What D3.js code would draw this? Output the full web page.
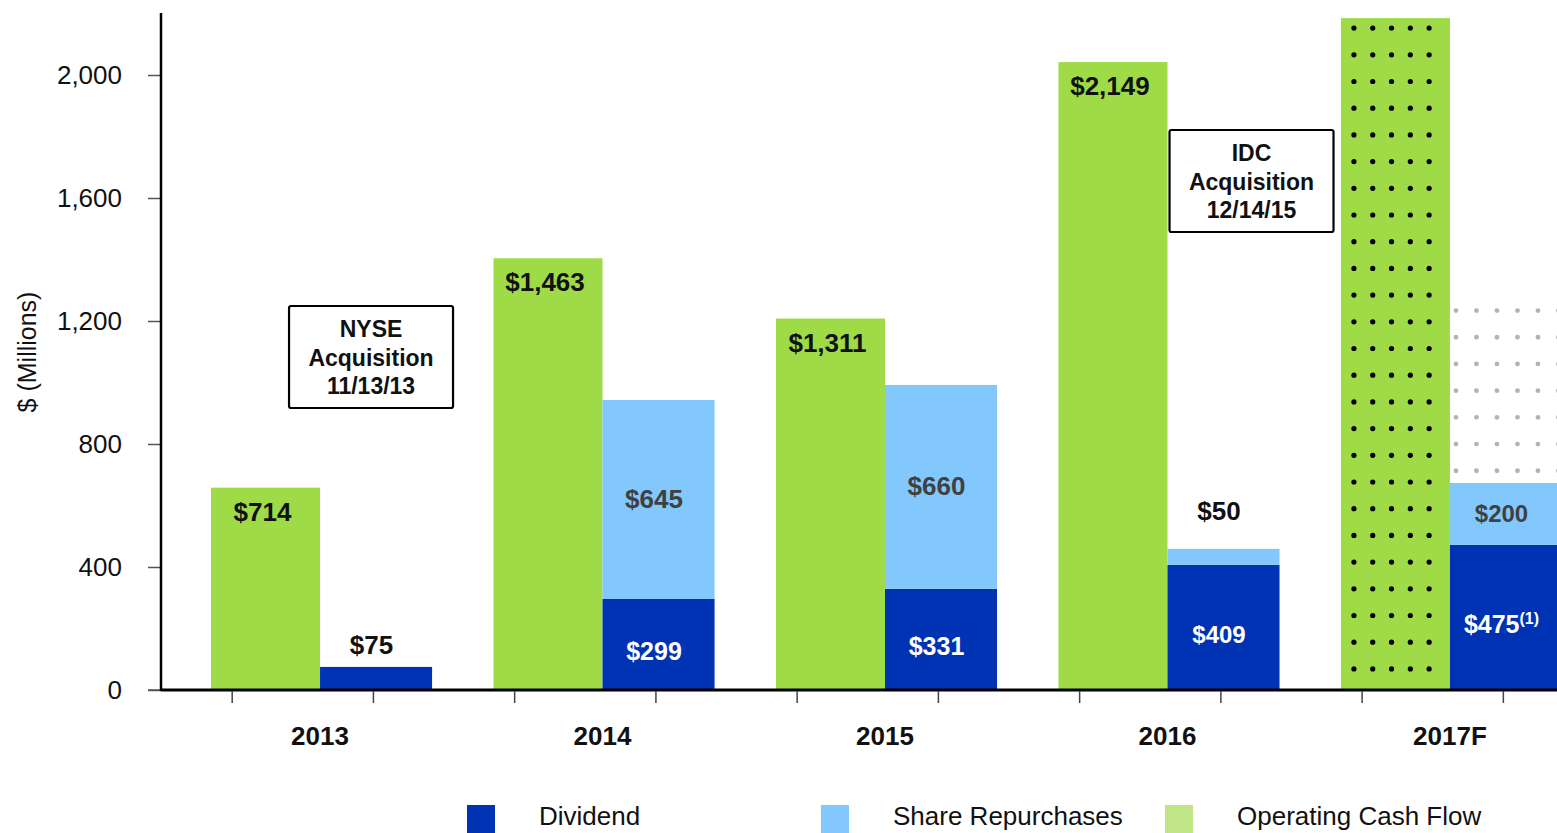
<!DOCTYPE html>
<html>
<head>
<meta charset="utf-8">
<script src="https://cdn.jsdelivr.net/npm/d3@7"></script>
<style>
  html, body { margin: 0; padding: 0; background: #fff; }
  svg { display: block; font-family: "Liberation Sans", Arial, sans-serif; }
</style>
</head>
<body>
<svg id="chart" width="1557" height="833"></svg>
<script>
// values (bar heights follow the axis, labels are the printed numbers)
const categories = ["2013", "2014", "2015", "2016", "2017F"];
const opCashFlow = [658, 1404, 1208, 2042, 2185];
const opCashFlowLabels = ["$714", "$1,463", "$1,311", "$2,149", null];
const dividends = [75, 296, 329, 407, 472];
const dividendLabels = ["$75", "$299", "$331", "$409", "$475"];
const repurchases = [0, 647, 663, 52, 201];
const repurchaseLabels = [null, "$645", "$660", "$50", "$200"];
const repurchaseUpside = [0, 0, 0, 0, 600];
const yTicks = [0, 400, 800, 1200, 1600, 2000];
const legendItems = ["Dividend", "Share Repurchases", "Operating Cash Flow"];
const notes = [
  { cat: "2013", lines: ["NYSE", "Acquisition", "11/13/13"] },
  { cat: "2016", lines: ["IDC", "Acquisition", "12/14/15"] }
];

const GREEN = "#9edb47", BLUE = "#0033b3", LIGHT = "#82c8fd";

const svg = d3.select("#chart");

var y = d3.scaleLinear().domain([0, 2200]).range([690, 13.5]);
var x = d3.scaleBand().domain(categories).range([211, 1559])
  .paddingInner(0.228).paddingOuter(0);
var sub = d3.scaleBand().domain(["ocf", "ret"]).range([0, x.bandwidth()]);

var rows = categories.map((c, i) => ({
  cat: c, ocf: opCashFlow[i], ocfLabel: opCashFlowLabels[i],
  div: dividends[i], divLabel: dividendLabels[i],
  rep: repurchases[i], repLabel: repurchaseLabels[i], up: repurchaseUpside[i]
}));

// y axis
var yAxis = svg.append("g").attr("transform", "translate(161,0)")
  .call(d3.axisLeft(y).tickValues(yTicks).tickSize(13).tickPadding(26)
    .tickFormat(d3.format(",")));
yAxis.select(".domain").remove();
yAxis.selectAll(".tick line").attr("stroke", "#555").attr("stroke-width", 1.5);
yAxis.selectAll(".tick text").attr("font-size", 26).attr("fill", "#111")
  .attr("font-family", "Liberation Sans, Arial, sans-serif");

svg.append("text")
  .attr("transform", "translate(36,352) rotate(-90)")
  .attr("text-anchor", "middle").attr("font-size", 25).attr("fill", "#111")
  .text("$ (Millions)");

// bars
var g = svg.append("g");
rows.forEach(function (d) {
  var x0 = x(d.cat);
  var gx = x0 + sub("ocf"), bx = x0 + sub("ret"), w = sub.bandwidth();

  g.append("rect").attr("x", gx).attr("y", y(d.ocf))
    .attr("width", w).attr("height", y(0) - y(d.ocf)).attr("fill", GREEN);

  g.append("rect").attr("x", bx).attr("y", y(d.div))
    .attr("width", w + 3).attr("height", y(0) - y(d.div)).attr("fill", BLUE);

  if (d.rep > 0) {
    g.append("rect").attr("x", bx).attr("y", y(d.div + d.rep))
      .attr("width", w + 3).attr("height", y(d.div) - y(d.div + d.rep)).attr("fill", LIGHT);
  }

  // forecast: dotted green bar, grey dotted upside above the repurchases
  if (d.cat === "2017F") {
    var top = y(d.ocf);
    d3.range(5).forEach(function (c) {
      for (var cy = top + 10; cy < y(0) - 14; cy += 26.7) {
        g.append("circle").attr("cx", gx + 13 + c * 18.8).attr("cy", cy)
          .attr("r", 2.6).attr("fill", "#000");
      }
    });
    var uTop = y(d.div + d.rep + d.up), uBot = y(d.div + d.rep);
    d3.range(6).forEach(function (c) {
      for (var cy = uTop + 12; cy < uBot - 6; cy += 26.7) {
        g.append("circle").attr("cx", bx + 6 + c * 20.5).attr("cy", cy)
          .attr("r", 2.4).attr("fill", "#b3b3b3");
      }
    });
  }

  // labels
  var lab = svg.append("g").attr("font-weight", "bold").attr("text-anchor", "middle");
  if (d.ocfLabel) {
    lab.append("text").attr("x", gx + w / 2 - 3).attr("y", y(d.ocf) + 33)
      .attr("font-size", 26).attr("fill", "#111").text(d.ocfLabel);
  }
  var divTop = y(d.div);
  if (d.div < 150) {
    lab.append("text").attr("x", bx + w / 2 - 3).attr("y", divTop - 13)
      .attr("font-size", 26).attr("fill", "#111").text(d.divLabel);
  } else {
    var t = lab.append("text").attr("x", bx + w / 2 - 3).attr("y", (divTop + y(0)) / 2 + 16)
      .attr("font-size", d.cat === "2016" ? 24 : 25).attr("fill", "#fff");
    t.append("tspan").text(d.divLabel);
    if (d.cat === "2017F") {
      t.append("tspan").attr("dy", -9).attr("font-size", 16).text("(1)");
    }
  }
  if (d.repLabel) {
    var rTop = y(d.div + d.rep);
    if (d.rep < 100) {
      lab.append("text").attr("x", bx + w / 2 - 3).attr("y", rTop - 29)
        .attr("font-size", 26).attr("fill", "#111").text(d.repLabel);
    } else {
      lab.append("text").attr("x", bx + w / 2 - 3).attr("y", (rTop + divTop) / 2 + 8)
        .attr("font-size", d.cat === "2017F" ? 24 : 26).attr("fill", "#404040").text(d.repLabel);
    }
  }
});

// x axis line and ticks
svg.append("line").attr("x1", 148).attr("x2", 161).attr("y1", 690).attr("y2", 690)
  .attr("stroke", "#555").attr("stroke-width", 1.5);
svg.append("line").attr("x1", 161).attr("x2", 1557).attr("y1", 690).attr("y2", 690)
  .attr("stroke", "#000").attr("stroke-width", 3);
svg.append("line").attr("x1", 161).attr("x2", 161).attr("y1", 13).attr("y2", 691)
  .attr("stroke", "#000").attr("stroke-width", 2.5);

categories.forEach(function (c) {
  [0.075, 0.575].forEach(function (f) {
    var tx = x(c) + f * x.step();
    svg.append("line").attr("x1", tx).attr("x2", tx).attr("y1", 691).attr("y2", 703)
      .attr("stroke", "#444").attr("stroke-width", 1.5);
  });
});

svg.append("g").selectAll("text").data(categories).join("text")
  .attr("x", d => x(d) + x.bandwidth() / 2)
  .attr("y", 745).attr("text-anchor", "middle")
  .attr("font-size", 26).attr("font-weight", "bold").attr("fill", "#111")
  .text(d => d);

// annotation boxes
notes.forEach(function (n) {
  var cx, top;
  if (n.cat === "2013") { cx = x(n.cat) + x.bandwidth() / 2 + 51; top = 306; }
  else { cx = x(n.cat) + x.bandwidth() - 25; top = 130; }
  var bw = 164, bh = 102;
  svg.append("rect").attr("x", cx - bw / 2).attr("y", top).attr("width", bw).attr("height", bh)
    .attr("rx", 2).attr("fill", "#fff").attr("stroke", "#000").attr("stroke-width", 2.2);
  n.lines.forEach(function (l, i) {
    svg.append("text").attr("x", cx).attr("y", top + 31 + i * 28.5)
      .attr("text-anchor", "middle").attr("font-size", 23).attr("font-weight", "bold")
      .attr("fill", "#111").text(l);
  });
});

// legend
var legendColors = [BLUE, LIGHT, "#c0e688"];
var legendX = [467, 821, 1165];
legendItems.forEach(function (name, i) {
  svg.append("rect").attr("x", legendX[i]).attr("y", 805).attr("width", 28).attr("height", 28)
    .attr("fill", legendColors[i]);
  svg.append("text").attr("x", legendX[i] + 72).attr("y", 825)
    .attr("font-size", 26).attr("fill", "#111").text(name);
});
</script>
</body>
</html>
